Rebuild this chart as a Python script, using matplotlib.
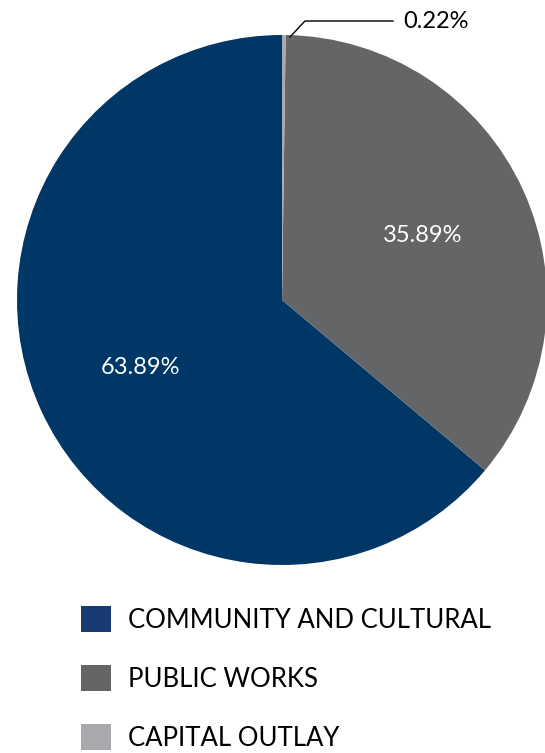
import matplotlib
matplotlib.use("Agg")
import matplotlib.pyplot as plt
from matplotlib.patches import Patch

categories = ["COMMUNITY AND CULTURAL", "PUBLIC WORKS", "CAPITAL OUTLAY"]
values = [63.89, 35.89, 0.22]
labels = ["63.89%", "35.89%", "0.22%"]
colors = ["#003767", "#646567", "#A8A9AD"]
legend_colors = ["#173A72", "#646567", "#A8A9AD"]

plt.rcParams['font.family'] = ['Lato', 'DejaVu Sans']

W, H = 545, 753
fig = plt.figure(figsize=(W/100, H/100), dpi=100)
cx, cy, r = 282, 300, 265
ax = fig.add_axes([(cx - r)/W, 1 - (cy + r)/H, 2*r/W, 2*r/H])
wedges, _ = ax.pie(values, colors=colors, startangle=90, counterclock=True,
                   radius=1.0, wedgeprops=dict(linewidth=0))
ax.set_xlim(-1, 1)
ax.set_ylim(-1, 1)
ax.set_aspect('equal')
ax.axis('off')

def px(x, y):
    return ((x - cx)/r, (cy - y)/r)

ax.text(*px(140, 368), labels[0], color="white", fontsize=17, ha="center", va="center")
ax.text(*px(423, 235), labels[1], color="white", fontsize=17, ha="center", va="center")
# leader line for small slice
xs = [px(290, 37)[0], px(305, 21)[0], px(393, 21)[0]]
ys = [px(290, 37)[1], px(305, 21)[1], px(393, 21)[1]]
ax.plot(xs, ys, color="black", lw=1, clip_on=False)
ax.text(*px(403, 22), labels[2], color="black", fontsize=17, ha="left", va="center", clip_on=False)

handles = [Patch(facecolor=c, edgecolor='none') for c in legend_colors]
fig.legend(handles, categories, loc="upper left", bbox_to_anchor=(81/W, 1 - 606/H),
           frameon=False, fontsize=18.5, handlelength=1.17, handleheight=1.17,
           labelspacing=1.26, handletextpad=0.65, borderpad=0, borderaxespad=0)

fig.savefig("out.png", dpi=100)
